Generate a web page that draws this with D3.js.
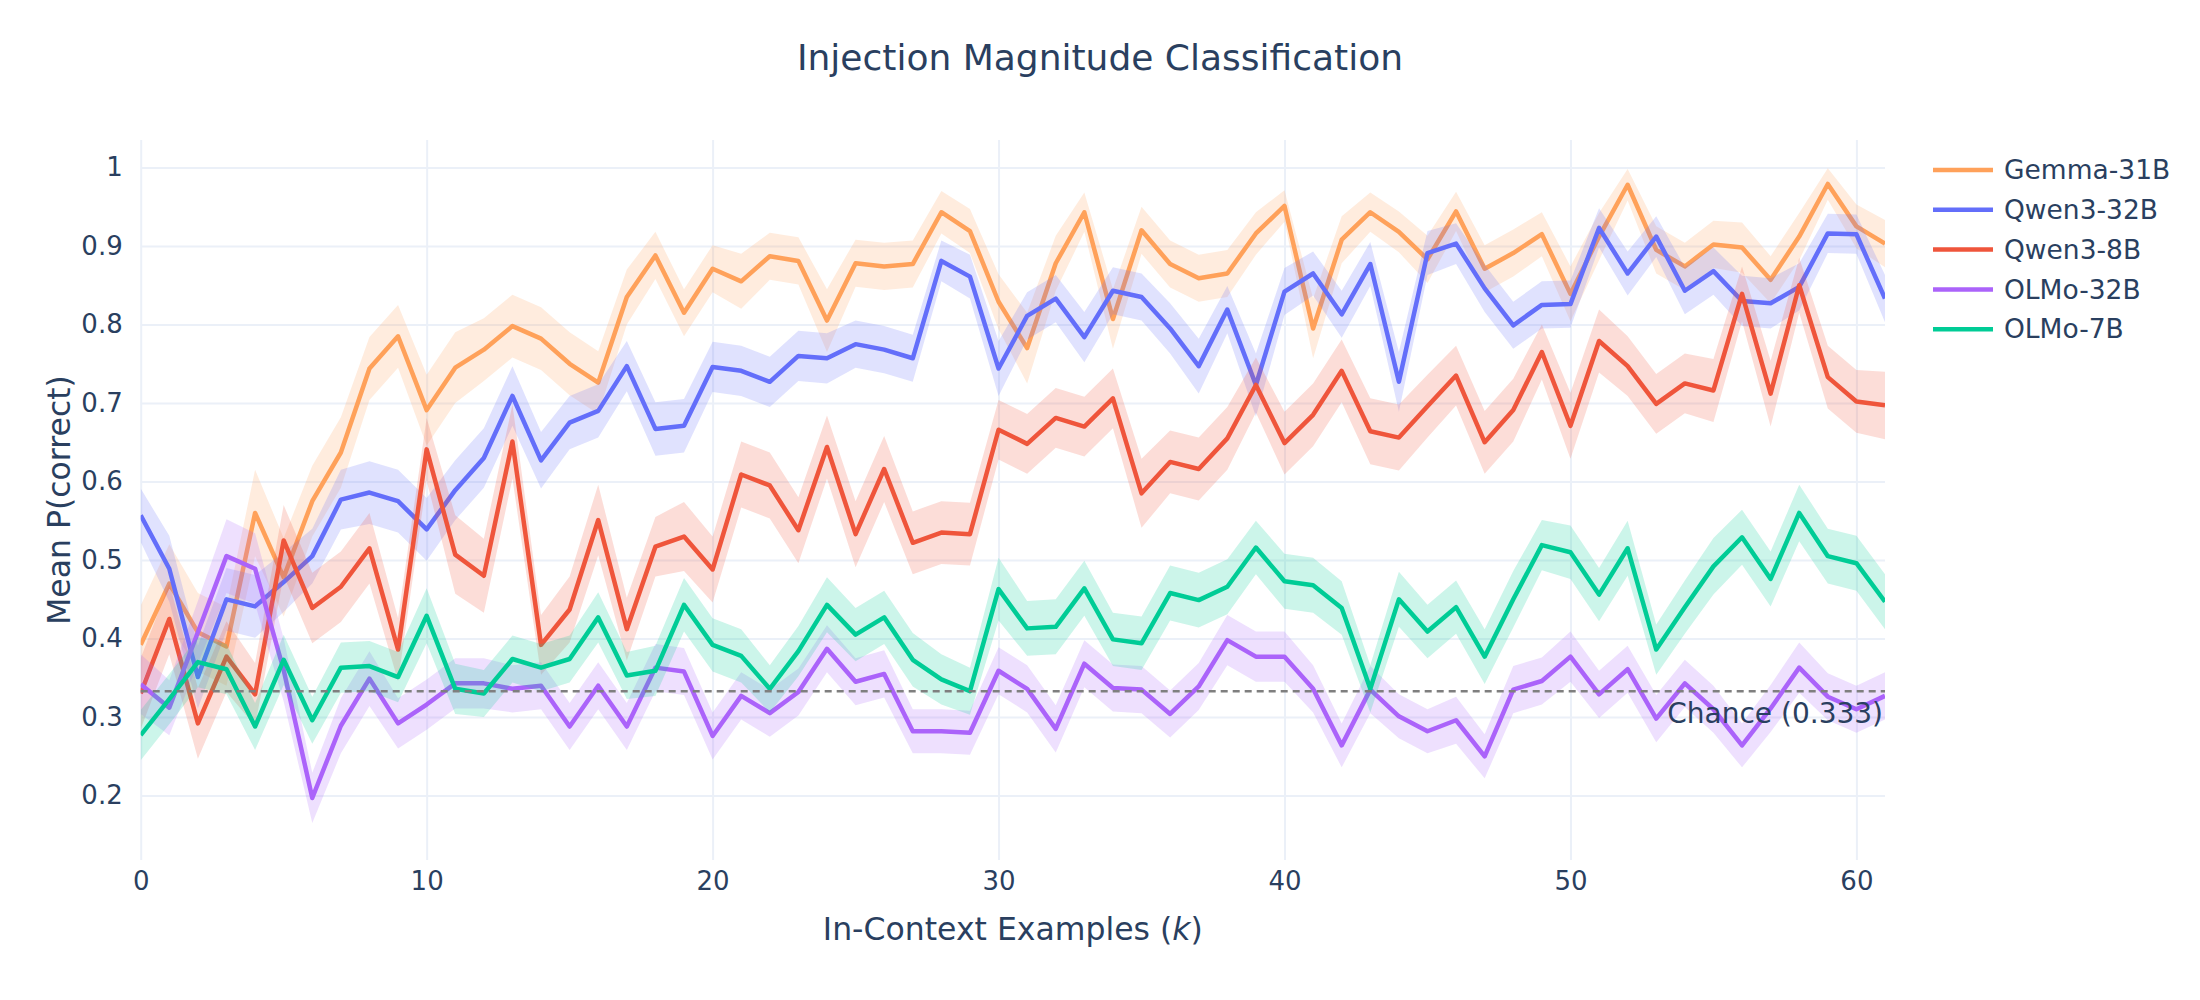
<!DOCTYPE html>
<html lang="en">
<head>
<meta charset="UTF-8"/>
<title>Injection Magnitude Classification</title>
<script src="https://d3js.org/d3.v7.min.js"></script>
<style>
  body { margin: 0; background: #fff; }
  svg { display: block; font-family: 'DejaVu Sans', sans-serif; }
  text { fill: #2a3f5f; }
  .grid line { stroke: #ebf0f8; stroke-width: 2; }
  .grid path { stroke-width: 0; }
  .axis path, .axis line { display: none; }
  .axis text { font-size: 26px; font-family: 'DejaVu Sans', sans-serif; fill: #2a3f5f; }
  .title { font-size: 36px; }
  .label { font-size: 31.5px; }
  .legend text { font-size: 26.5px; }
  .note { font-size: 28px; }
</style>
</head>
<body>
<svg width="2200" height="1000"></svg>
<script>
// in-context examples k
const ks = [0,1,2,3,4,5,6,7,8,9,10,11,12,13,14,15,16,17,18,19,20,21,22,23,24,25,26,27,28,29,30,
  31,32,33,34,35,36,37,38,39,40,41,42,43,44,45,46,47,48,49,50,51,52,53,54,55,56,57,58,59,60,61];

const models = ['Gemma-31B', 'Qwen3-32B', 'Qwen3-8B', 'OLMo-32B', 'OLMo-7B'];
const colors = ['#FFA15A', '#636EFA', '#EF553B', '#AB63FA', '#00CC96'];

const gemma = [0.392,0.470,0.408,0.390,0.560,0.478,0.575,0.637,0.744,0.785,0.691,
  0.745,0.768,0.798,0.782,0.750,0.726,0.835,0.888,0.815,0.871,
  0.855,0.887,0.881,0.805,0.878,0.874,0.877,0.943,0.919,0.829,
  0.770,0.878,0.943,0.807,0.920,0.877,0.859,0.865,0.916,0.951,
  0.795,0.908,0.943,0.918,0.883,0.944,0.871,0.891,0.915,0.839,
  0.912,0.978,0.895,0.874,0.902,0.898,0.857,0.912,0.979,0.925,0.903];
const qwen32 = [0.557,0.489,0.351,0.450,0.441,0.472,0.505,0.577,0.586,0.575,0.539,
  0.589,0.630,0.709,0.627,0.675,0.690,0.747,0.667,0.671,0.746,
  0.741,0.727,0.760,0.757,0.775,0.768,0.757,0.881,0.861,0.744,
  0.811,0.833,0.784,0.843,0.835,0.795,0.747,0.819,0.723,0.842,
  0.865,0.813,0.877,0.727,0.891,0.903,0.846,0.799,0.825,0.826,
  0.923,0.865,0.912,0.843,0.868,0.830,0.827,0.848,0.916,0.915,0.833];
const qwen8 = [0.330,0.425,0.292,0.377,0.329,0.525,0.439,0.466,0.515,0.386,0.641,
  0.507,0.480,0.651,0.392,0.437,0.551,0.412,0.517,0.530,0.488,
  0.609,0.595,0.538,0.644,0.533,0.616,0.522,0.535,0.533,0.666,
  0.648,0.681,0.670,0.706,0.585,0.625,0.616,0.655,0.723,0.649,
  0.685,0.741,0.664,0.656,0.696,0.735,0.650,0.691,0.765,0.671,
  0.779,0.747,0.699,0.725,0.716,0.839,0.712,0.850,0.733,0.702,0.697];
const olmo32 = [0.342,0.312,0.408,0.505,0.489,0.360,0.197,0.289,0.349,0.292,0.316,
  0.343,0.343,0.336,0.340,0.288,0.340,0.288,0.363,0.358,0.276,
  0.327,0.305,0.332,0.387,0.345,0.355,0.282,0.282,0.280,0.359,
  0.336,0.285,0.368,0.337,0.335,0.304,0.339,0.398,0.377,0.377,
  0.336,0.264,0.335,0.301,0.282,0.296,0.250,0.335,0.346,0.377,
  0.329,0.361,0.298,0.343,0.310,0.264,0.311,0.363,0.326,0.310,0.327];
const olmo7 = [0.277,0.323,0.370,0.361,0.288,0.373,0.296,0.363,0.365,0.351,0.429,
  0.336,0.330,0.374,0.363,0.374,0.427,0.353,0.359,0.443,0.392,
  0.378,0.336,0.384,0.443,0.405,0.427,0.373,0.348,0.333,0.463,
  0.413,0.415,0.464,0.399,0.394,0.458,0.449,0.466,0.516,0.473,
  0.468,0.439,0.336,0.450,0.409,0.440,0.377,0.450,0.519,0.510,
  0.456,0.515,0.386,0.440,0.492,0.529,0.476,0.560,0.505,0.496,0.447];

// half-width of the shaded band
const gemmaErr = [0.05,0.05,0.05,0.05,0.055,0.05,0.045,0.045,0.04,0.04,0.045,
  0.045,0.04,0.04,0.04,0.04,0.04,0.035,0.03,0.03,0.03,
  0.035,0.03,0.03,0.04,0.03,0.03,0.03,0.027,0.028,0.035,
  0.045,0.035,0.025,0.038,0.03,0.03,0.03,0.03,0.027,0.02,
  0.038,0.03,0.025,0.026,0.03,0.025,0.03,0.03,0.028,0.035,
  0.03,0.02,0.03,0.03,0.03,0.032,0.03,0.03,0.02,0.028,0.03];
const qwen32Err = [0.034,0.042,0.04,0.04,0.04,0.038,0.035,0.038,0.04,0.04,0.04,
  0.038,0.038,0.038,0.036,0.034,0.034,0.032,0.034,0.034,0.032,
  0.032,0.032,0.032,0.032,0.03,0.03,0.03,0.026,0.028,0.035,
  0.03,0.03,0.032,0.03,0.03,0.032,0.035,0.03,0.04,0.03,
  0.028,0.03,0.028,0.038,0.028,0.026,0.03,0.03,0.03,0.03,
  0.025,0.028,0.026,0.03,0.03,0.032,0.032,0.03,0.025,0.025,0.03];
const qwen8Err = [0.045,0.045,0.045,0.045,0.04,0.045,0.045,0.045,0.045,0.04,0.04,
  0.05,0.047,0.047,0.038,0.042,0.045,0.04,0.038,0.044,0.042,
  0.042,0.042,0.042,0.04,0.042,0.042,0.04,0.04,0.04,0.038,
  0.038,0.038,0.038,0.038,0.044,0.04,0.04,0.04,0.035,0.04,
  0.04,0.04,0.042,0.042,0.04,0.038,0.04,0.04,0.035,0.042,
  0.04,0.038,0.038,0.038,0.04,0.035,0.042,0.035,0.04,0.04,0.043];
const olmo32Err = [0.038,0.035,0.04,0.047,0.045,0.04,0.032,0.035,0.035,0.032,0.032,
  0.032,0.032,0.03,0.03,0.03,0.03,0.03,0.03,0.03,0.03,
  0.03,0.03,0.03,0.03,0.03,0.03,0.028,0.028,0.028,0.03,
  0.03,0.03,0.03,0.03,0.03,0.03,0.03,0.032,0.032,0.032,
  0.03,0.028,0.03,0.028,0.028,0.03,0.028,0.03,0.03,0.032,
  0.03,0.03,0.03,0.03,0.03,0.028,0.03,0.032,0.03,0.03,0.03];
const olmo7Err = [0.032,0.032,0.032,0.032,0.03,0.032,0.03,0.032,0.032,0.032,0.035,
  0.032,0.03,0.03,0.03,0.03,0.032,0.03,0.032,0.034,0.034,
  0.034,0.03,0.032,0.035,0.034,0.034,0.034,0.032,0.03,0.04,
  0.035,0.035,0.035,0.034,0.034,0.035,0.035,0.035,0.034,0.035,
  0.035,0.034,0.03,0.035,0.034,0.034,0.035,0.036,0.032,0.034,
  0.034,0.035,0.032,0.034,0.036,0.035,0.035,0.036,0.035,0.035,0.035];

const xTicks = [0, 10, 20, 30, 40, 50, 60];
const yTicks = [0.2, 0.3, 0.4, 0.5, 0.6, 0.7, 0.8, 0.9, 1];
const yTickLabels = ['0.2', '0.3', '0.4', '0.5', '0.6', '0.7', '0.8', '0.9', '1'];
const chance = 0.333;

const means = [gemma, qwen32, qwen8, olmo32, olmo7];
const errs = [gemmaErr, qwen32Err, qwen8Err, olmo32Err, olmo7Err];

const svg = d3.select('svg');
const plotLeft = 140.7, plotRight = 1885, plotTop = 140, plotBottom = 860;

const xScale = d3.scaleLinear().domain([0, 61]).range([plotLeft, plotRight]);
const yScale = d3.scaleLinear().domain([0.118, 1.035]).range([plotBottom, plotTop]);

// grid
svg.append('g')
  .attr('class', 'grid')
  .attr('transform', `translate(0, ${plotBottom})`)
  .call(d3.axisBottom(xScale).tickValues(xTicks).tickSize(-(plotBottom - plotTop)).tickFormat(''));
svg.append('g')
  .attr('class', 'grid')
  .attr('transform', `translate(${plotLeft}, 0)`)
  .call(d3.axisLeft(yScale).tickValues(yTicks).tickSize(-(plotRight - plotLeft)).tickFormat(''));

// axes
svg.append('g')
  .attr('class', 'axis')
  .attr('transform', `translate(0, ${plotBottom})`)
  .call(d3.axisBottom(xScale).tickValues(xTicks).tickSize(0).tickPadding(12).tickFormat(d3.format('d')));
svg.append('g')
  .attr('class', 'axis')
  .attr('transform', `translate(${plotLeft}, 0)`)
  .call(d3.axisLeft(yScale).tickValues(yTicks).tickSize(0).tickPadding(18)
    .tickFormat((d, i) => yTickLabels[i]));

svg.append('clipPath').attr('id', 'plot')
  .append('rect').attr('x', plotLeft).attr('y', plotTop)
  .attr('width', plotRight - plotLeft).attr('height', plotBottom - plotTop);

const plot = svg.append('g').attr('clip-path', 'url(#plot)');

models.forEach((m, s) => {
  const rows = ks.map((k, i) => ({ k: k, v: means[s][i], e: errs[s][i] }));

  const band = d3.area()
    .x((d) => xScale(d.k))
    .y0((d) => yScale(d.v - d.e))
    .y1((d) => yScale(d.v + d.e));

  const line = d3.line()
    .x((d) => xScale(d.k))
    .y((d) => yScale(d.v));

  plot.append('path')
    .datum(rows)
    .attr('d', band)
    .attr('fill', colors[s])
    .attr('fill-opacity', 0.2);

  plot.append('path')
    .datum(rows)
    .attr('d', line)
    .attr('fill', 'none')
    .attr('stroke', colors[s])
    .attr('stroke-width', 4.5)
    .attr('stroke-linejoin', 'round');
});

// chance level
svg.append('line')
  .attr('x1', plotLeft)
  .attr('x2', plotRight)
  .attr('y1', yScale(chance))
  .attr('y2', yScale(chance))
  .attr('stroke', '#7f7f7f')
  .attr('stroke-width', 2.5)
  .attr('stroke-dasharray', '7 5');

svg.append('text')
  .attr('class', 'note')
  .attr('x', plotRight - 2)
  .attr('y', yScale(chance) + 22)
  .attr('dy', '0.35em')
  .attr('text-anchor', 'end')
  .text(`Chance (${chance})`);

// titles
svg.append('text')
  .attr('class', 'title')
  .attr('x', 1100)
  .attr('y', 57)
  .attr('dy', '0.35em')
  .attr('text-anchor', 'middle')
  .text('Injection Magnitude Classification');

const xLabel = svg.append('text')
  .attr('class', 'label')
  .attr('x', (plotLeft + plotRight) / 2)
  .attr('y', 929)
  .attr('dy', '0.35em')
  .attr('text-anchor', 'middle');
xLabel.append('tspan').text('In-Context Examples (');
xLabel.append('tspan').attr('font-style', 'italic').text('k');
xLabel.append('tspan').text(')');

svg.append('text')
  .attr('class', 'label')
  .attr('transform', `translate(59, ${(plotTop + plotBottom) / 2}) rotate(-90)`)
  .attr('dy', '0.35em')
  .attr('text-anchor', 'middle')
  .text('Mean P(correct)');

// legend
const legend = svg.append('g').attr('class', 'legend');
models.forEach((m, s) => {
  const ly = 170 + s * 39.8;
  legend.append('line')
    .attr('x1', 1933).attr('x2', 1993)
    .attr('y1', ly).attr('y2', ly)
    .attr('stroke', colors[s])
    .attr('stroke-width', 4.5);
  legend.append('text')
    .attr('x', 2004)
    .attr('y', ly)
    .attr('dy', '0.35em')
    .text(m);
});
</script>
</body>
</html>
